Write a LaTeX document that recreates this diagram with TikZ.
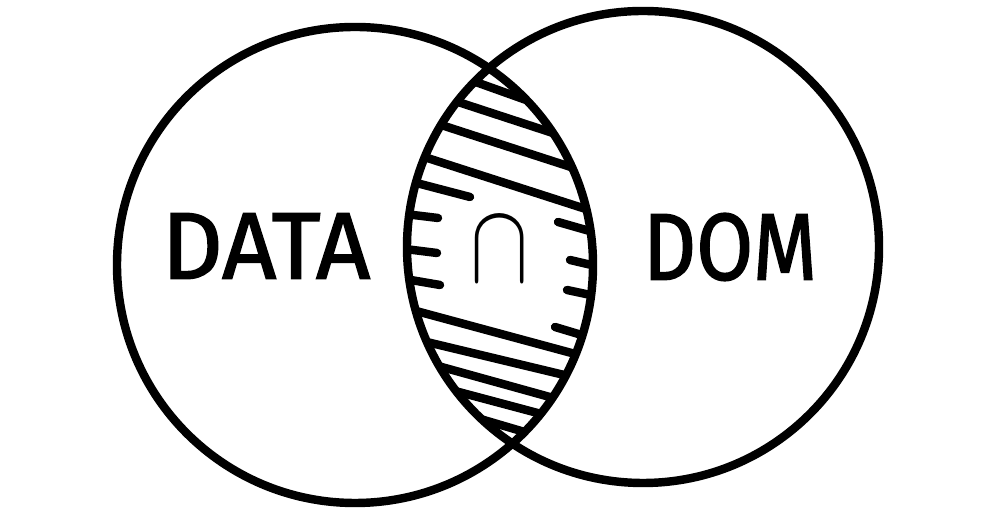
\documentclass[tikz,border=0pt]{standalone}
\usepackage{fontspec}
\setmainfont{Fira Sans}
\newfontfamily\handfont[FakeBold=1.6]{Fira Sans}

\tikzset{
  ring/.style={line width=2.4pt},
  hatch/.style={line width=2.4pt, line cap=round},
  setname/.style={font=\handfont\fontsize{27}{27}\selectfont, inner sep=0pt}
}

\begin{document}
\begin{tikzpicture}
    \useasboundingbox (0,0) rectangle (10,5.12);

    % hatching inside the overlap only
    \begin{scope}
      \clip (3.55,2.47) circle (2.38);
      \clip (6.43,2.65) circle (2.36);
      \foreach \a/\b in {{4.70,4.32}/{5.40,4.07}, {4.55,4.11}/{5.65,3.75},
                         {4.35,3.89}/{5.80,3.42}, {4.15,3.58}/{5.95,3.00},
                         {4.05,2.04}/{5.90,1.54}, {4.10,1.74}/{5.85,1.32},
                         {4.20,1.51}/{5.75,1.08}, {4.40,1.25}/{5.60,0.93},
                         {4.60,0.99}/{5.45,0.74}}
        \draw[hatch] (\a)--(\b);
      % short strokes around the symbol
      \foreach \a/\b in {{4.05,3.32}/{4.70,3.15}, {4.05,2.98}/{4.38,2.94},
                         {4.05,2.63}/{4.37,2.59}, {4.05,2.33}/{4.40,2.27},
                         {5.58,2.90}/{6.00,2.78}, {5.70,2.52}/{6.00,2.45},
                         {5.67,2.22}/{6.00,2.15}, {5.55,1.85}/{5.95,1.73}}
        \draw[hatch] (\a)--(\b);
    \end{scope}

    \draw[ring] (3.55,2.47) circle (2.38);
    \draw[ring] (6.43,2.65) circle (2.36);

    \node[setname] (data) at (2.66,2.66) {DATA};
    \node[setname, xscale=0.87] (dom) at (7.30,2.65) {DOM};
    \node[inner sep=0pt, yscale=1.3, font=\fontsize{41}{41}\selectfont] (cap) at (5.00,2.62) {$\cap$};
\end{tikzpicture}
\end{document}
